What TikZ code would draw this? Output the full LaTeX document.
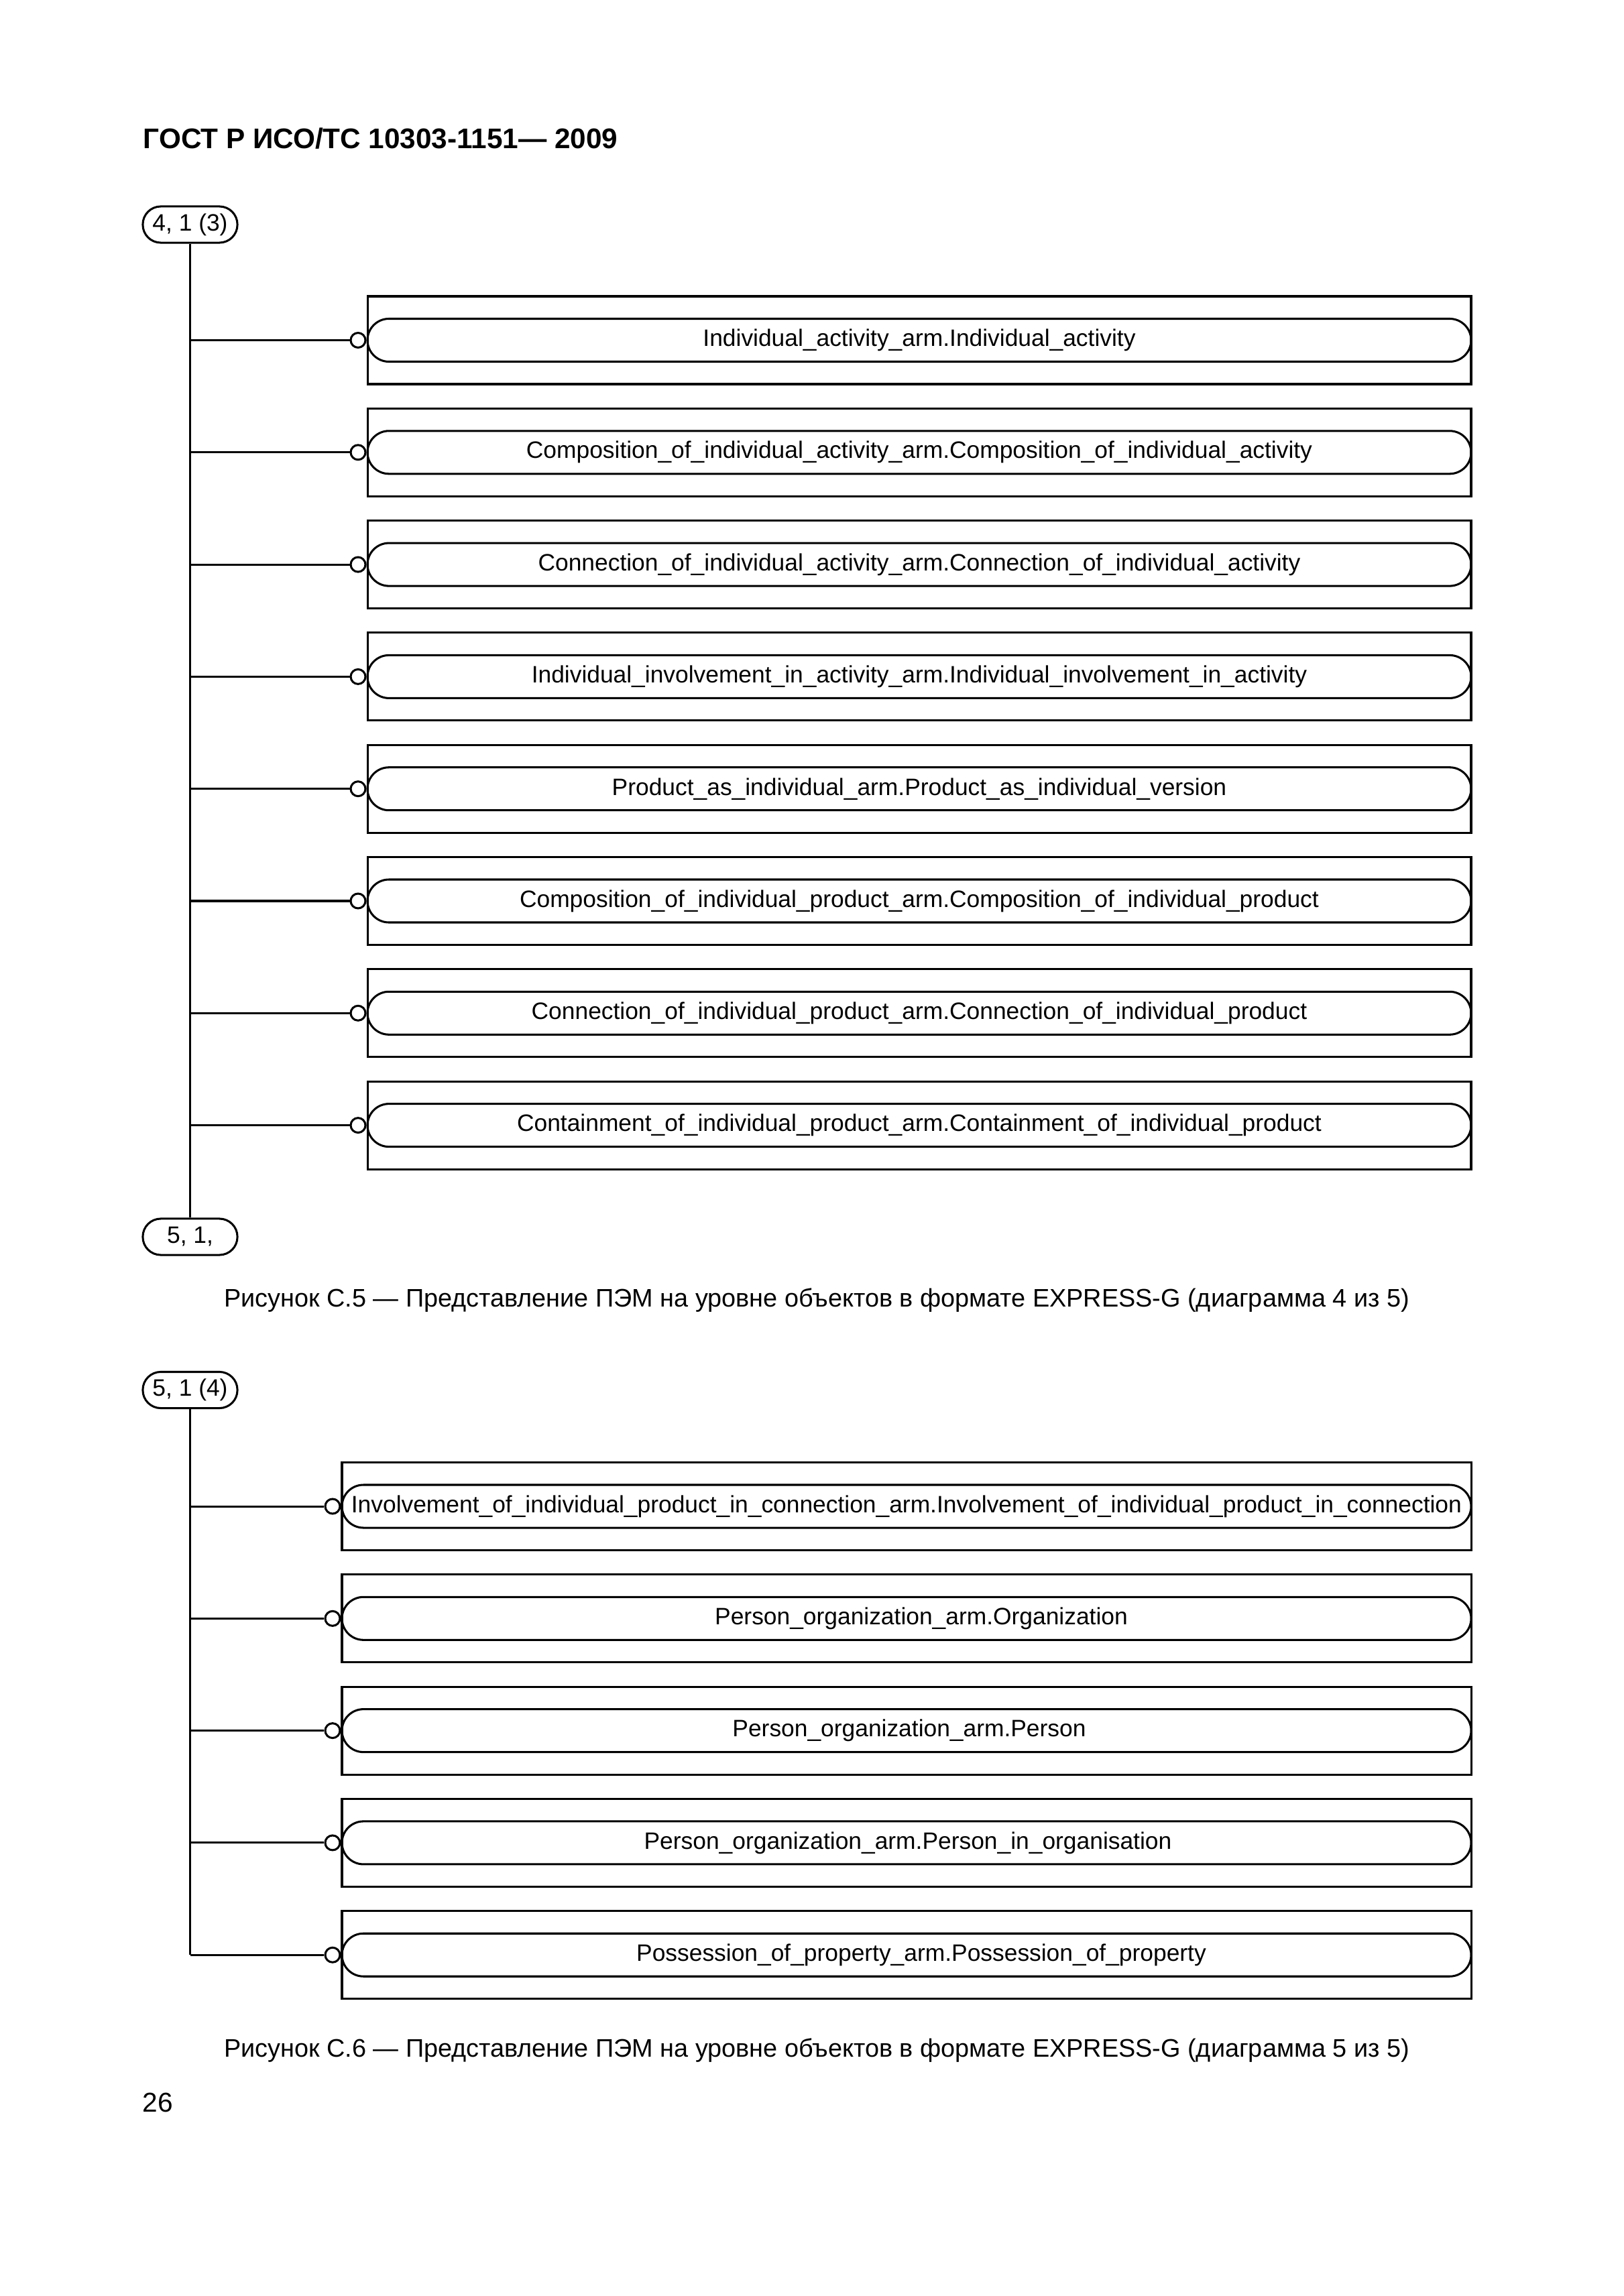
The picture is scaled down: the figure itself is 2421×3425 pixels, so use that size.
\documentclass[tikz,border=0pt]{standalone}
\usepackage{fontspec}
\setmainfont{Liberation Sans}
\usetikzlibrary{positioning}

\tikzset{
  outerbox/.style={draw, line width=.75pt, minimum height=32.2pt, inner sep=0pt},
  innerbox/.style={draw, line width=.75pt, rounded corners=7.87pt, minimum height=15.74pt, inner sep=0pt},
  boxtext/.style={inner sep=0pt, font=\fontsize{8.7}{10}\selectfont},
  pageref/.style={draw, line width=.75pt, rounded corners=6.6pt, minimum width=34.7pt, minimum height=13.3pt, inner sep=0pt, font=\fontsize{8.7}{10}\selectfont},
  joint/.style={draw, circle, line width=.75pt, minimum size=5.4pt, inner sep=0pt},
  trunk/.style={line width=.75pt},
  figcaption/.style={font=\fontsize{9.3}{11}\selectfont, inner sep=0pt, anchor=base}
}

\begin{document}
\begin{tikzpicture}[x=0.24588pt, y=-0.24588pt]
  \useasboundingbox (0,0) rectangle (2421,3425);

  % page head
  \node[anchor=base west, inner sep=0pt, font=\fontsize{10.4}{12}\selectfont\bfseries] (head) at (213,222) {ГОСТ Р ИСО/ТС 10303-1151— 2009};

  % diagram 4 of 5
  \node[pageref] (ref1) at (283.5,335) {4, 1 (3)};
  \node[pageref] (ref2) at (283.5,1845) {5, 1,};
  \draw[trunk] (ref1.south) -- (ref2.north);
  \foreach \i/\txt in {1/Individual\_activity\_arm.Individual\_activity,
                       2/Composition\_of\_individual\_activity\_arm.Composition\_of\_individual\_activity,
                       3/Connection\_of\_individual\_activity\_arm.Connection\_of\_individual\_activity,
                       4/Individual\_involvement\_in\_activity\_arm.Individual\_involvement\_in\_activity,
                       5/Product\_as\_individual\_arm.Product\_as\_individual\_version,
                       6/Composition\_of\_individual\_product\_arm.Composition\_of\_individual\_product,
                       7/Connection\_of\_individual\_product\_arm.Connection\_of\_individual\_product,
                       8/Containment\_of\_individual\_product\_arm.Containment\_of\_individual\_product}
  {
    \node[outerbox, minimum width=404.7pt] (a\i) at (1371,{507.5+167.3*(\i-1)}) {};
    \node[innerbox, minimum width=404.7pt] (ia\i) at (a\i.center) {};
    \node[boxtext] (ta\i) at (a\i.center) {\txt};
    \node[joint, left=0pt of a\i.west] (ca\i) {};
    \draw[trunk] (ref1.south |- ca\i) -- (ca\i.west);
  }
  \node[figcaption] (cap1) at (1218,1949) {Рисунок С.5 — Представление ПЭМ на уровне объектов в формате EXPRESS-G (диаграмма 4 из 5)};

  % diagram 5 of 5
  \node[pageref] (ref3) at (283.5,2073.5) {5, 1 (4)};
  \foreach \i/\dx/\txt in {1/0/Involvement\_of\_individual\_product\_in\_connection\_arm.Involvement\_of\_individual\_product\_in\_connection,
                           2/22/Person\_organization\_arm.Organization,
                           3/4/Person\_organization\_arm.Person,
                           4/2/Person\_organization\_arm.Person\_in\_organisation,
                           5/22/Possession\_of\_property\_arm.Possession\_of\_property}
  {
    \node[outerbox, minimum width=414.06pt] (b\i) at (1352,{2247+167.3*(\i-1)}) {};
    \node[innerbox, minimum width=414.06pt] (ib\i) at (b\i.center) {};
    \node[boxtext] (tb\i) at ([xshift=\dx*0.24588pt] b\i.center) {\txt};
    \node[joint, left=0pt of b\i.west] (cb\i) {};
    \draw[trunk] (ref3.south |- cb\i) -- (cb\i.west);
  }
  \draw[trunk] (ref3.south) -- (ref3.south |- cb5);
  \node[figcaption] (cap2) at (1218,3068) {Рисунок С.6 — Представление ПЭМ на уровне объектов в формате EXPRESS-G (диаграмма 5 из 5)};

  \node[anchor=base west, inner sep=0pt, font=\fontsize{10}{12}\selectfont] (pageno) at (212,3150) {26};
\end{tikzpicture}
\end{document}
